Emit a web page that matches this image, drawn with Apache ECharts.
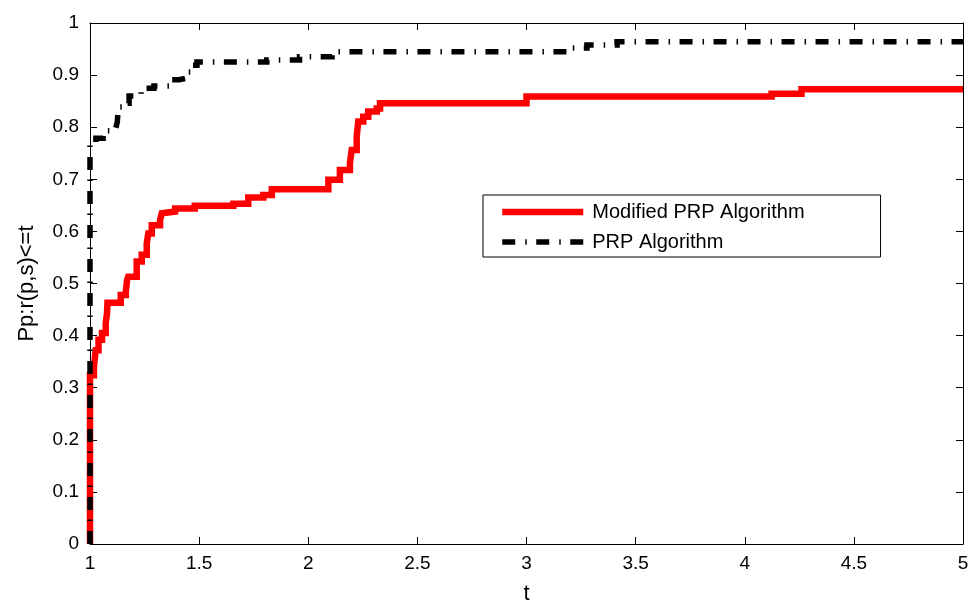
<!DOCTYPE html>
<html>
<head>
<meta charset="utf-8">
<script src="https://cdn.jsdelivr.net/npm/echarts@6/dist/echarts.min.js"></script>
<style>
html,body{margin:0;padding:0;background:#fff;}
#c{width:969px;height:605px;}
</style>
</head>
<body>
<div id="c"></div>
<script>
// Modified PRP Algorithm (performance profile, step data)
var modT = [1, 1, 1.018, 1.026, 1.039, 1.055, 1.072, 1.078, 1.08, 1.141, 1.164, 1.17, 1.175, 1.214, 1.237, 1.26, 1.267, 1.283, 1.321, 1.329, 1.336, 1.39, 1.48, 1.657, 1.725, 1.794, 1.833, 2.092, 2.145, 2.191, 2.199, 2.222, 2.229, 2.252, 2.275, 2.314, 2.329, 3.0, 4.123, 4.26, 5];
var modV = [0, 0.324, 0.340, 0.372, 0.392, 0.405, 0.424, 0.443, 0.463, 0.478, 0.484, 0.507, 0.513, 0.542, 0.555, 0.577, 0.596, 0.612, 0.622, 0.635, 0.638, 0.644, 0.649, 0.653, 0.665, 0.670, 0.681, 0.699, 0.718, 0.731, 0.756, 0.782, 0.811, 0.820, 0.830, 0.836, 0.846, 0.859, 0.864, 0.873, 0.873];
// PRP Algorithm
var prpT = [1, 1, 1.027, 1.06, 1.118, 1.125, 1.13, 1.156, 1.179, 1.234, 1.293, 1.362, 1.408, 1.44, 1.463, 1.49, 1.81, 1.96, 2.109, 3.186, 3.277, 3.415, 5];
var prpV = [0, 0.766, 0.779, 0.793, 0.798, 0.81, 0.839, 0.846, 0.860, 0.875, 0.879, 0.891, 0.894, 0.906, 0.919, 0.925, 0.929, 0.935, 0.945, 0.952, 0.958, 0.964, 0.964];
var seriesNames = ['Modified PRP Algorithm', 'PRP Algorithm'];
var xName = 't';
var yName = 'Pp:r(p,s)<=t';

function pairs(t, v) { return t.map(function (x, i) { return [x, v[i]]; }); }

var FONT = '"Liberation Sans", Arial, Helvetica, sans-serif';
var chart = echarts.init(document.getElementById('c'), null, {renderer: 'canvas'});
var axisCommon = {
  axisLine: {show: true, onZero: false, lineStyle: {color: '#000', width: 1}},
  axisTick: {show: true, inside: true, length: 7, lineStyle: {color: '#000', width: 1}},
  splitLine: {show: false}
};
var redStyle = {color: '#ff0000', width: 6.5, cap: 'butt', join: 'miter'};
var blackStyle = {color: '#000', width: 5.5, type: [13, 10, 1.5, 9.5], cap: 'butt', join: 'miter'};
chart.setOption({
  backgroundColor: '#fff',
  animation: false,
  grid: {left: 90, right: 6, top: 23, bottom: 61, containLabel: false, outerBoundsMode: 'none'},
  legend: {
    orient: 'vertical',
    left: 483, top: 195,
    data: [
      {name: seriesNames[0], lineStyle: {width: 6.5, color: '#ff0000'}},
      {name: seriesNames[1], lineStyle: {width: 5.5, color: '#000', type: [13, 10, 1.5, 9.5]}}
    ],
    itemWidth: 81, itemHeight: 1, itemGap: 10,
    itemStyle: {opacity: 0},
    padding: [7, 76, 5, 16],
    borderColor: '#000', borderWidth: 1,
    backgroundColor: '#fff',
    textStyle: {fontFamily: FONT, fontSize: 20, color: '#000', padding: [0, 0, 0, 4]}
  },
  xAxis: [
    Object.assign({
      type: 'value', min: 1, max: 5, interval: 0.5, position: 'bottom',
      axisLabel: {margin: 10, fontFamily: FONT, fontSize: 19, color: '#000'},
      name: xName, nameLocation: 'middle', nameGap: 39,
      nameTextStyle: {fontFamily: FONT, fontSize: 22, color: '#000'}
    }, axisCommon),
    Object.assign({
      type: 'value', min: 1, max: 5, interval: 0.5, position: 'top',
      axisLabel: {show: false}
    }, axisCommon)
  ],
  yAxis: [
    Object.assign({
      type: 'value', min: 0, max: 1, interval: 0.1, position: 'left',
      axisLabel: {margin: 11, fontFamily: FONT, fontSize: 19, color: '#000'},
      name: yName, nameLocation: 'middle', nameGap: 52,
      nameTextStyle: {fontFamily: FONT, fontSize: 22, color: '#000'}
    }, axisCommon),
    Object.assign({
      type: 'value', min: 0, max: 1, interval: 0.1, position: 'right',
      axisLabel: {show: false}
    }, axisCommon)
  ],
  series: [
    {
      name: seriesNames[0], type: 'line', step: 'end',
      data: pairs(modT, modV),
      showSymbol: false, symbol: 'none', clip: false,
      lineStyle: redStyle,
      itemStyle: {color: '#ff0000'}
    },
    {
      name: seriesNames[1], type: 'line', step: 'end',
      data: pairs(prpT, prpV),
      showSymbol: false, symbol: 'none', clip: false,
      lineStyle: blackStyle,
      itemStyle: {color: '#000'}
    }
  ]
});
</script>
</body>
</html>
